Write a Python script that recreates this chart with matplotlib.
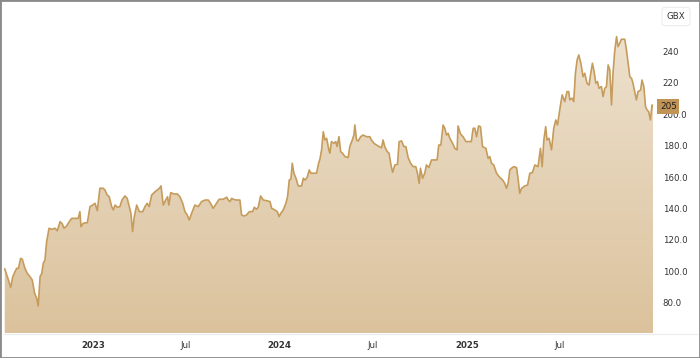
import numpy as np
import pandas as pd
import matplotlib
matplotlib.use("Agg")
import matplotlib.pyplot as plt
import matplotlib.dates as mdates
from matplotlib.patches import Rectangle
from matplotlib.colors import LinearSegmentedColormap

# price history (GBX), dates as decimal years
dec_year = [
    2022.528, 2022.542, 2022.560, 2022.571, 2022.583, 2022.592, 2022.601, 2022.613, 2022.622, 2022.636,
    2022.649, 2022.663, 2022.675, 2022.688, 2022.699, 2022.707, 2022.717, 2022.726, 2022.734, 2022.743,
    2022.752, 2022.765, 2022.779, 2022.797, 2022.809, 2022.824, 2022.836, 2022.845, 2022.859, 2022.873,
    2022.886, 2022.904, 2022.921, 2022.930, 2022.936, 2022.948, 2022.970, 2022.984, 2022.998, 2023.011,
    2023.023, 2023.037, 2023.055, 2023.064, 2023.076, 2023.087, 2023.100, 2023.109, 2023.118, 2023.130,
    2023.144, 2023.155, 2023.171, 2023.183, 2023.194, 2023.203, 2023.212, 2023.221, 2023.234, 2023.248,
    2023.266, 2023.278, 2023.290, 2023.301, 2023.314, 2023.332, 2023.344, 2023.355, 2023.364, 2023.376,
    2023.389, 2023.399, 2023.406, 2023.416, 2023.433, 2023.451, 2023.465, 2023.480, 2023.492, 2023.504,
    2023.515, 2023.528, 2023.545, 2023.563, 2023.581, 2023.599, 2023.617, 2023.629, 2023.643, 2023.661,
    2023.675, 2023.697, 2023.715, 2023.724, 2023.733, 2023.742, 2023.750, 2023.768, 2023.786, 2023.795,
    2023.807, 2023.822, 2023.836, 2023.854, 2023.863, 2023.875, 2023.884, 2023.897, 2023.911, 2023.929,
    2023.947, 2023.956, 2023.973, 2023.986, 2023.996, 2024.005, 2024.018, 2024.032, 2024.041, 2024.050,
    2024.059, 2024.066, 2024.075, 2024.086, 2024.098, 2024.116, 2024.125, 2024.135, 2024.146, 2024.157,
    2024.166, 2024.178, 2024.196, 2024.207, 2024.214, 2024.223, 2024.232, 2024.241, 2024.250, 2024.262,
    2024.267, 2024.276, 2024.289, 2024.299, 2024.306, 2024.316, 2024.325, 2024.335, 2024.348, 2024.365,
    2024.374, 2024.387, 2024.396, 2024.401, 2024.410, 2024.419, 2024.432, 2024.445, 2024.464, 2024.481,
    2024.490, 2024.503, 2024.517, 2024.531, 2024.544, 2024.552, 2024.561, 2024.574, 2024.584, 2024.594,
    2024.603, 2024.615, 2024.629, 2024.638, 2024.651, 2024.663, 2024.674, 2024.686, 2024.699, 2024.713,
    2024.727, 2024.736, 2024.745, 2024.752, 2024.763, 2024.775, 2024.784, 2024.797, 2024.811, 2024.829,
    2024.841, 2024.850, 2024.861, 2024.873, 2024.882, 2024.891, 2024.900, 2024.909, 2024.924, 2024.936,
    2024.948, 2024.953, 2024.966, 2024.980, 2024.995, 2025.012, 2025.024, 2025.034, 2025.043, 2025.052,
    2025.063, 2025.073, 2025.084, 2025.102, 2025.114, 2025.123, 2025.132, 2025.144, 2025.159, 2025.173,
    2025.191, 2025.203, 2025.212, 2025.221, 2025.230, 2025.239, 2025.251, 2025.266, 2025.274, 2025.283,
    2025.293, 2025.310, 2025.325, 2025.337, 2025.351, 2025.364, 2025.381, 2025.394, 2025.403, 2025.412,
    2025.422, 2025.429, 2025.440, 2025.453, 2025.465, 2025.476, 2025.485, 2025.497, 2025.510, 2025.524,
    2025.536, 2025.545, 2025.551, 2025.563, 2025.572, 2025.581, 2025.590, 2025.599, 2025.610, 2025.622,
    2025.631, 2025.643, 2025.654, 2025.663, 2025.672, 2025.681, 2025.690, 2025.699, 2025.707, 2025.720,
    2025.729, 2025.738, 2025.747, 2025.756, 2025.765, 2025.774, 2025.782, 2025.791, 2025.801, 2025.809,
    2025.818, 2025.827, 2025.845, 2025.854, 2025.863, 2025.872, 2025.881, 2025.889, 2025.898, 2025.907,
    2025.916, 2025.930, 2025.937, 2025.947, 2025.956, 2025.964, 2025.973, 2025.982, 2025.991, 2025.996,
]
price = [
    101.3, 96.4, 89.6, 96.4, 99.6, 101.7, 101.7, 108.1, 107.5, 101.7,
    98.5, 96.4, 94.3, 85.8, 82.6, 77.7, 96.4, 98.5, 104.9, 107.0,
    118.7, 127.3, 126.6, 127.3, 125.7, 131.5, 130.0, 127.3, 128.7, 131.5,
    133.6, 133.6, 133.6, 137.9, 128.3, 130.5, 130.9, 141.1, 142.1, 143.2,
    138.5, 152.8, 152.8, 151.7, 148.5, 147.4, 141.1, 139.0, 142.1, 140.7,
    141.1, 145.3, 147.9, 146.4, 141.1, 136.9, 125.1, 134.7, 142.1, 137.9,
    137.9, 141.1, 143.2, 141.1, 148.5, 150.6, 151.7, 152.8, 154.3, 142.1,
    145.3, 147.4, 142.1, 150.0, 149.2, 149.2, 147.4, 143.2, 137.9, 135.8,
    132.6, 136.9, 142.1, 141.1, 144.3, 145.3, 145.3, 143.2, 140.0, 143.2,
    145.8, 145.8, 147.1, 145.3, 144.3, 146.4, 145.8, 145.3, 145.3, 135.8,
    135.1, 135.8, 137.9, 137.9, 140.7, 139.4, 140.7, 147.9, 145.3, 144.9,
    144.3, 140.0, 139.0, 137.9, 134.7, 136.9, 139.0, 143.2, 147.4, 158.1,
    158.6, 168.8, 162.4, 159.2, 154.3, 154.3, 159.2, 158.1, 159.8, 164.5,
    162.4, 162.4, 162.4, 168.8, 171.3, 177.3, 188.9, 183.6, 184.7, 177.3,
    175.2, 182.6, 181.5, 182.6, 179.4, 185.7, 176.2, 175.2, 173.0, 172.4,
    179.4, 183.6, 186.8, 193.2, 183.6, 183.0, 185.7, 186.8, 185.7, 185.7,
    183.6, 181.5, 180.4, 179.4, 178.7, 183.6, 179.4, 176.2, 175.2, 167.7,
    163.0, 167.7, 168.1, 182.6, 183.0, 179.4, 179.4, 172.4, 168.8, 166.6,
    166.6, 162.4, 156.0, 165.6, 159.2, 162.4, 167.7, 166.0, 170.9, 170.9,
    170.9, 180.4, 180.4, 193.2, 191.1, 186.8, 187.9, 184.7, 181.5, 178.3,
    177.3, 192.6, 187.5, 185.7, 182.6, 182.6, 182.6, 191.1, 191.1, 185.7,
    192.6, 192.1, 179.4, 178.3, 171.9, 173.0, 168.8, 167.7, 162.4, 160.2,
    158.1, 156.0, 152.8, 156.0, 164.5, 165.6, 166.6, 166.0, 159.2, 149.6,
    152.8, 154.3, 154.9, 162.4, 162.8, 167.7, 166.6, 178.3, 166.6, 183.6,
    192.1, 183.6, 184.7, 177.3, 191.1, 196.4, 193.2, 202.8, 212.4, 208.1,
    214.5, 214.5, 209.2, 210.3, 208.1, 226.2, 234.7, 237.9, 232.6, 224.0,
    226.2, 219.8, 218.7, 226.2, 232.6, 227.2, 219.8, 220.9, 216.6, 217.7,
    211.3, 216.6, 217.7, 231.5, 228.3, 206.0, 226.2, 240.0, 249.6, 243.2,
    245.4, 247.9, 247.9, 241.1, 232.6, 224.0, 223.0, 219.8, 214.5, 209.2,
    214.5, 215.5, 221.9, 217.7, 204.9, 202.8, 201.7, 196.4, 206.0, 205.0,
]

ytick_vals = [80, 100, 120, 140, 160, 180, 200, 220, 240]
ytick_labels = ["80.0", "100.0", "120.0", "140.0", "160.0", "180.0", "200.0", "220", "240"]
xtick_dates = ["2023-01-01", "2023-07-01", "2024-01-01", "2024-07-01", "2025-01-01", "2025-07-01"]
xtick_labels = ["2023", "Jul", "2024", "Jul", "2025", "Jul"]
last_label = "205"
unit_label = "GBX"


def to_dates(years):
    years = np.asarray(years, dtype=float)
    return pd.Timestamp("2023-01-01") + pd.to_timedelta((years - 2023) * 365.25, unit="D")


dates = to_dates(dec_year)
x = mdates.date2num(dates.to_pydatetime())
y = np.array(price)

line_col = "#c69c5c"
text_col = "#333333"

fig = plt.figure(figsize=(7.0, 3.58), dpi=100)
fig.patch.set_facecolor("white")
ax = fig.add_axes([4 / 700, 1 - 333 / 358, 649 / 700, 329 / 358])
ax.set_facecolor("white")

ylo, yhi = 60.45, 270.4
x0 = mdates.date2num(to_dates([2022.524])[0])
x1 = mdates.date2num(to_dates([2025.996])[0])

# gradient fill under the line
poly = ax.fill_between(x, y, ylo, color="none", lw=0)
cmap = LinearSegmentedColormap.from_list("g", ["#dbc29c", "#efe4d3"])
grad = np.linspace(0, 1, 256).reshape(-1, 1)
img = ax.imshow(grad, extent=[x0, x1, ylo, yhi], origin="lower", aspect="auto",
                cmap=cmap, zorder=1)
img.set_clip_path(poly.get_paths()[0], transform=ax.transData)
ax.plot(x, y, color=line_col, lw=1.2, zorder=3, solid_joinstyle="round")

ax.set_xlim(x0, x1)
ax.set_ylim(ylo, yhi)

for s in ax.spines.values():
    s.set_visible(False)

ax.yaxis.tick_right()
ax.set_yticks(ytick_vals)
ax.set_yticklabels(ytick_labels)
ax.tick_params(axis="y", length=0, pad=7, labelsize=6.2, labelcolor=text_col)
for lbl in ax.get_yticklabels():
    lbl.set_horizontalalignment("left")

xt = mdates.date2num(pd.to_datetime(xtick_dates).to_pydatetime())
ax.set_xticks(xt)
ax.set_xticklabels(xtick_labels)
ax.tick_params(axis="x", length=0, pad=6, labelsize=6.2, labelcolor=text_col)
for lbl in ax.get_xticklabels():
    if lbl.get_text() != "Jul":
        lbl.set_fontweight("bold")

# separator under plot
fig.add_artist(plt.Line2D([4 / 700, 697 / 700], [1 - 333.5 / 358] * 2, color="#ececec", lw=0.8))

# unit box
fig.text(676 / 700, 1 - 16.5 / 358, unit_label, ha="center", va="center", fontsize=6.2, color=text_col,
         bbox=dict(boxstyle="round,pad=0.55,rounding_size=0.4", fc="white", ec="#e6e6e6", lw=0.6))

# last value tag
ax.annotate(last_label, xy=(1, y[-1]), xycoords=("axes fraction", "data"),
            xytext=(5, 0), textcoords="offset points", ha="left", va="center",
            fontsize=6.4, color="#1e1e1e", zorder=10, annotation_clip=False,
            bbox=dict(boxstyle="square,pad=0.3", fc="#c09356", ec="none"))

# outer frame
fig.add_artist(Rectangle((0, 0), 1, 1, transform=fig.transFigure, fill=False,
                         ec="#8a8a8a", lw=2.0))

fig.savefig("out.png", dpi=100, facecolor="white")
